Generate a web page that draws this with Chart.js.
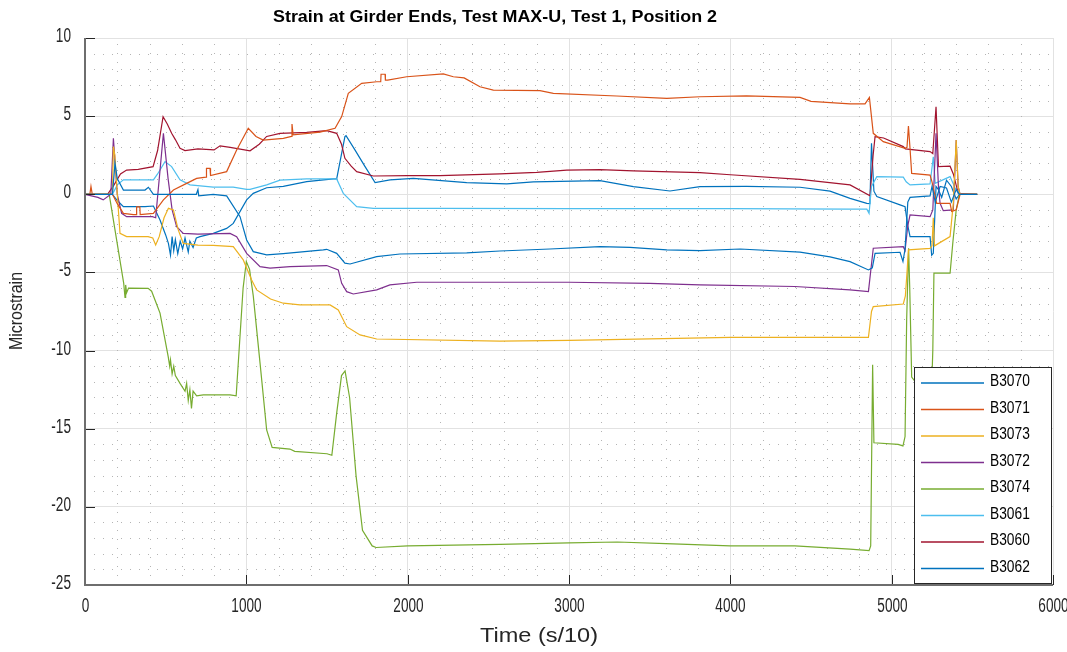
<!DOCTYPE html>
<html>
<head>
<meta charset="utf-8">
<script src="https://cdn.jsdelivr.net/npm/chart.js@4.4.0/dist/chart.umd.min.js"></script>
<style>
  html, body { margin: 0; padding: 0; background: #fff; }
  #wrap { width: 1067px; height: 652px; }
</style>
</head>
<body>
<div id="wrap"><canvas id="strainChart" width="1067" height="652"></canvas></div>
<script>
// tick labels
const xTicks = [0, 1000, 2000, 3000, 4000, 5000, 6000];
const yTicks = [10, 5, 0, -5, -10, -15, -20, -25];

// series names, in legend order
const seriesNames = ['B3070', 'B3071', 'B3073', 'B3072', 'B3074', 'B3061', 'B3060', 'B3062'];
const seriesColors = ['#0072BD', '#D95319', '#EDB120', '#7E2F8E', '#77AC30', '#4DBEEE', '#A2142F', '#0072BD'];

// [time (s/10), microstrain]
const b3070 = [[0,0],[170,0],[186,1.98],[200,1.0],[238,0.27],[372,0.27],[393,0.45],[424,0],[589,0],[690,0],[700,0.3],[705,-0.1],[795,0],[878,-0.1],[961,-1.43],[1002,-2.92],[1043,-3.67],[1126,-3.88],[1229,-3.8],[1477,-3.56],[1498,-3.52],[1560,-3.78],[1611,-4.41],[1643,-4.46],[1808,-3.99],[1952,-3.82],[2366,-3.75],[2572,-3.63],[2882,-3.5],[3192,-3.35],[3378,-3.4],[3606,-3.56],[3812,-3.6],[4060,-3.5],[4432,-3.7],[4618,-4.0],[4742,-4.31],[4856,-4.84],[4880,-4.7],[4897,-3.78],[5052,-3.71],[5070,-4.3],[5083,-3.5],[5100,-0.5],[5114,-0.2],[5238,-0.1],[5250,0.5],[5270,-0.5],[5300,0.5],[5340,0.4],[5370,-0.5],[5400,0.3],[5420,0],[5530,0]];
const b3071 = [[0,0],[30,0],[37,0.5],[45,0],[170,0],[200,-0.6],[238,-1.22],[300,-1.3],[318,-1.3],[320,-0.8],[340,-0.8],[342,-1.3],[424,-1.22],[486,-0.36],[548,0.27],[630,0.7],[692,1.02],[750,1.1],[753,1.66],[775,1.66],[778,1.2],[878,1.45],[940,2.83],[1012,4.22],[1060,3.7],[1105,3.47],[1229,3.58],[1280,3.7],[1283,4.5],[1290,3.8],[1457,3.98],[1550,4.22],[1591,4.97],[1632,6.46],[1715,7.1],[1808,7.2],[1833,7.2],[1835,7.68],[1860,7.68],[1862,7.3],[1876,7.3],[1994,7.52],[2221,7.7],[2283,7.52],[2350,7.45],[2448,6.88],[2531,6.67],[2820,6.63],[2903,6.46],[3296,6.29],[3606,6.14],[3812,6.24],[4100,6.3],[4432,6.2],[4500,5.95],[4742,5.78],[4835,5.78],[4862,6.2],[4886,3.9],[4948,3.37],[5083,2.94],[5095,3.0],[5104,4.37],[5114,2.9],[5124,1.34],[5238,1.23],[5250,0.8],[5279,-0.58],[5362,-0.58],[5372,-1.1],[5400,-1.0],[5424,0],[5530,0]];
const b3073 = [[0,0],[170,0],[176,3.05],[185,2.5],[200,0],[217,-2.5],[258,-2.71],[391,-2.71],[420,-2.8],[438,-3.24],[460,-2.71],[490,-1.5],[517,-0.9],[548,-1.0],[578,-2.28],[609,-3.14],[700,-3.25],[795,-3.27],[919,-3.35],[981,-4.2],[1033,-5.48],[1064,-6.12],[1150,-6.7],[1229,-6.97],[1333,-7.08],[1519,-7.08],[1570,-7.4],[1622,-8.47],[1705,-9.0],[1808,-9.26],[2572,-9.39],[3000,-9.35],[3500,-9.25],[4000,-9.15],[4742,-9.15],[4856,-9.15],[4875,-7.5],[4886,-7.19],[5072,-7.02],[5085,-6.5],[5095,-5],[5104,-3.56],[5238,-3.46],[5250,-3.3],[5258,-1.5],[5265,-3.3],[5362,-2.71],[5382,-0.58],[5400,3.47],[5412,0.5],[5424,0],[5530,0]];
const b3072 = [[0,0],[80,-0.2],[113,-0.36],[160,0],[176,3.58],[200,0],[227,-1.22],[258,-1.43],[418,-1.43],[438,-1.5],[486,3.9],[515,1.0],[540,-1.0],[568,-2.07],[609,-2.5],[700,-2.55],[899,-2.5],[940,-2.71],[1002,-3.78],[1085,-4.63],[1147,-4.73],[1271,-4.63],[1498,-4.56],[1570,-4.84],[1591,-5.7],[1622,-6.23],[1663,-6.38],[1808,-6.12],[1890,-5.8],[2056,-5.63],[2572,-5.63],[3000,-5.63],[3500,-5.7],[3812,-5.8],[4400,-5.9],[4742,-6.12],[4856,-6.23],[4886,-3.45],[5072,-3.35],[5083,-3.6],[5100,-2.0],[5114,-1.32],[5238,-1.43],[5255,-1.0],[5275,3.9],[5290,0.5],[5300,-0.58],[5320,-1.05],[5382,-1.0],[5400,3.47],[5412,0.5],[5424,0],[5530,0]];
const b3074 = [[0,0],[150,0],[240,-5.7],[248,-6.6],[252,-5.8],[258,-6.3],[270,-6.0],[391,-6.02],[413,-6.2],[465,-7.6],[516,-10.4],[525,-11.0],[530,-10.6],[540,-11.5],[550,-11.0],[560,-11.6],[589,-12.1],[620,-12.6],[630,-12.1],[640,-13.2],[650,-12.5],[660,-13.7],[670,-12.6],[692,-12.9],[733,-12.84],[899,-12.84],[937,-12.9],[980,-6],[1000,-4.3],[1020,-4.8],[1043,-6.5],[1085,-10.8],[1126,-15.08],[1160,-16.2],[1270,-16.3],[1300,-16.45],[1500,-16.6],[1530,-16.7],[1560,-14],[1590,-11.6],[1612,-11.3],[1640,-13],[1680,-18],[1720,-21.5],[1780,-22.5],[1804,-22.6],[2000,-22.5],[2572,-22.4],[3000,-22.3],[3300,-22.25],[3600,-22.35],[4000,-22.5],[4400,-22.5],[4742,-22.7],[4860,-22.8],[4870,-22.5],[4882,-10.9],[4890,-15.9],[5040,-16.0],[5070,-16.1],[5083,-15.5],[5093,-8],[5105,-3.45],[5112,-6],[5124,-11.7],[5140,-11.9],[5240,-15],[5255,-10],[5262,-5.05],[5362,-5.05],[5380,-3],[5400,-1],[5420,0],[5530,0]];
const b3061 = [[0,0],[170,0],[200,0.6],[238,0.92],[424,0.92],[450,1.3],[496,2.09],[537,1.77],[589,0.92],[651,0.6],[795,0.46],[919,0.46],[1002,0.32],[1023,0.32],[1126,0.6],[1209,0.9],[1374,0.98],[1560,0.98],[1601,0.06],[1684,-0.79],[1787,-0.9],[2200,-0.9],[3000,-0.92],[4000,-0.92],[4742,-0.95],[4846,-0.95],[4860,-1.22],[4875,0.5],[4908,1.13],[5072,1.1],[5090,0.8],[5114,0.6],[5238,0.66],[5258,2.4],[5270,0.7],[5362,1.13],[5393,0.4],[5420,0],[5530,0]];
const b3060 = [[0,0],[140,0],[180,0.6],[220,1.3],[258,1.55],[330,1.6],[422,1.77],[450,2.8],[484,4.96],[510,4.5],[537,3.9],[560,3.5],[589,2.94],[620,2.8],[700,2.9],[800,2.84],[837,3.1],[900,3.0],[1023,2.78],[1080,3.2],[1126,3.7],[1209,3.9],[1374,3.96],[1498,4.07],[1560,3.9],[1590,3.2],[1611,2.3],[1650,1.8],[1684,1.45],[1787,1.17],[2000,1.2],[2200,1.2],[2572,1.3],[2800,1.4],[2986,1.55],[3192,1.58],[3399,1.5],[3812,1.38],[4000,1.25],[4432,0.95],[4742,0.6],[4866,-0.1],[4885,2.5],[4897,3.69],[4950,3.6],[5072,3.05],[5085,2.9],[5238,2.73],[5255,2.6],[5275,5.6],[5290,1.77],[5362,1.8],[5382,1.3],[5413,0.06],[5530,0]];
const b3062 = [[0,0],[170,0],[200,-0.4],[238,-0.79],[372,-0.79],[424,-0.75],[465,-1.64],[500,-2.6],[517,-3.14],[530,-3.9],[540,-2.7],[550,-3.6],[560,-2.9],[575,-3.8],[590,-3.0],[605,-3.5],[620,-2.8],[640,-3.7],[650,-3.0],[670,-3.4],[690,-2.8],[713,-2.71],[795,-2.5],[878,-2.18],[919,-1.86],[1002,-0.36],[1043,0.06],[1126,0.42],[1229,0.51],[1374,0.81],[1539,0.98],[1560,0.98],[1611,3.69],[1618,3.75],[1674,2.83],[1736,1.77],[1798,0.75],[1891,0.92],[2035,1.02],[2366,0.75],[2614,0.66],[2779,0.8],[3192,0.87],[3399,0.49],[3626,0.21],[3812,0.49],[4100,0.5],[4432,0.45],[4618,0.2],[4742,-0.26],[4846,-0.58],[4865,-0.6],[4875,3.26],[4890,0.2],[4908,-0.15],[5052,-0.68],[5083,-0.8],[5100,-2.0],[5114,-2.71],[5238,-2.71],[5248,-3.9],[5258,-3.78],[5275,0.5],[5290,0.3],[5310,-0.2],[5340,0.9],[5370,0.5],[5400,-0.3],[5420,0],[5530,0]];

const seriesData = [b3070, b3071, b3073, b3072, b3074, b3061, b3060, b3062];

const FONT = '"Liberation Sans", Arial, Helvetica, sans-serif';
const INK = '#262626';

function stretchText(ctx, str, x, y, o) {
    ctx.save();
    ctx.font = (o.bold ? 'bold ' : '') + o.size + 'px ' + FONT;
    ctx.fillStyle = o.color || INK;
    ctx.textAlign = o.align || 'center';
    ctx.textBaseline = o.base || 'middle';
    ctx.translate(x, y);
    if (o.rot) ctx.rotate(o.rot);
    let sx = o.sx || 1;
    if (o.fitWidth) sx = o.fitWidth / ctx.measureText(str).width;
    ctx.scale(sx, 1);
    ctx.fillText(str, 0, 0);
    ctx.restore();
}

// dotted minor grid, drawn under the lines
const minorGrid = {
    id: 'minorGrid',
    beforeDatasetsDraw(chart) {
        const { ctx, chartArea: a, scales: { x, y } } = chart;
        ctx.save();
        ctx.strokeStyle = '#b4b4b4';
        ctx.lineWidth = 1;
        ctx.setLineDash([1, 8]);
        for (let t = 200; t < 6000; t += 200) {
            if (t % 1000 === 0) continue;
            const px = Math.round(x.getPixelForValue(t)) + 0.5;
            ctx.beginPath(); ctx.moveTo(px, a.bottom); ctx.lineTo(px, a.top); ctx.stroke();
        }
        for (let v = -24; v < 10; v += 1) {
            if (v % 5 === 0) continue;
            const py = Math.round(y.getPixelForValue(v)) + 0.5;
            ctx.beginPath(); ctx.moveTo(a.left, py); ctx.lineTo(a.right, py); ctx.stroke();
        }
        ctx.restore();
    }
};

// axis lines, inward ticks, labels, titles and the boxed legend
const decor = {
    id: 'decor',
    afterDraw(chart) {
        const { ctx, chartArea: a, scales: { x, y } } = chart;
        ctx.save();
        ctx.strokeStyle = INK;
        ctx.lineWidth = 1;
        xTicks.forEach(t => {
            const px = Math.round(x.getPixelForValue(t)) + 0.5;
            ctx.beginPath(); ctx.moveTo(px, a.bottom); ctx.lineTo(px, a.bottom - 10); ctx.stroke();
            stretchText(ctx, String(t), px, a.bottom + 21, { size: 20, sx: 0.68 });
        });
        yTicks.forEach(v => {
            const py = Math.round(y.getPixelForValue(v)) + 0.5;
            ctx.beginPath(); ctx.moveTo(a.left, py); ctx.lineTo(a.left + 10, py); ctx.stroke();
            stretchText(ctx, String(v), a.left - 14, py - 2, { size: 20, sx: 0.68, align: 'right' });
        });
        ctx.strokeStyle = '#6e6e6e';
        ctx.lineWidth = 2;
        ctx.beginPath();
        ctx.moveTo(a.left, a.top); ctx.lineTo(a.left, a.bottom); ctx.lineTo(a.right, a.bottom);
        ctx.stroke();
        ctx.restore();

        stretchText(ctx, 'Strain at Girder Ends, Test MAX-U, Test 1, Position 2', 495, 17,
            { size: 17, bold: true, color: '#000', fitWidth: 444 });
        stretchText(ctx, 'Time (s/10)', 539, 636, { size: 20, fitWidth: 118 });
        stretchText(ctx, 'Microstrain', 17, 311, { size: 18, rot: -Math.PI / 2, fitWidth: 78 });

        // legend box
        const lx = 914.5, ly = 367.5, lw = 137, lh = 216;
        ctx.save();
        ctx.fillStyle = '#fff';
        ctx.fillRect(lx, ly, lw, lh);
        ctx.strokeStyle = INK;
        ctx.lineWidth = 1;
        ctx.strokeRect(lx, ly, lw, lh);
        chart.data.datasets.forEach((ds, i) => {
            const ry = ly + 15.5 + i * 26.5;
            ctx.strokeStyle = ds.borderColor;
            ctx.lineWidth = 1.5;
            ctx.beginPath(); ctx.moveTo(921, ry); ctx.lineTo(984, ry); ctx.stroke();
            stretchText(ctx, ds.label, 990, ry - 1, { size: 16, sx: 0.86, align: 'left', color: '#000' });
        });
        ctx.restore();
    }
};

new Chart(document.getElementById('strainChart').getContext('2d'), {
    type: 'line',
    data: {
        datasets: seriesNames.map((name, i) => ({
            label: name,
            data: seriesData[i].map(p => ({ x: p[0], y: p[1] })),
            borderColor: seriesColors[i],
            backgroundColor: seriesColors[i],
            borderWidth: 1.2,
            pointRadius: 0,
            tension: 0,
            fill: false,
        }))
    },
    options: {
        responsive: false,
        animation: false,
        events: [],
        layout: { padding: { top: 38, right: 14, left: 0, bottom: 0 } },
        plugins: {
            legend: { display: false },
            title: { display: false },
            tooltip: { enabled: false }
        },
        scales: {
            x: {
                type: 'linear',
                min: 0,
                max: 6000,
                ticks: { display: false, stepSize: 1000 },
                grid: { color: '#e2e2e2', lineWidth: 1, drawTicks: false },
                border: { display: false },
                afterFit(scale) { scale.height = 67; }
            },
            y: {
                type: 'linear',
                min: -25,
                max: 10,
                ticks: { display: false, stepSize: 5 },
                grid: { color: '#e2e2e2', lineWidth: 1, drawTicks: false },
                border: { display: false },
                afterFit(scale) { scale.width = 85; }
            }
        }
    },
    plugins: [minorGrid, decor]
});
</script>
</body>
</html>
